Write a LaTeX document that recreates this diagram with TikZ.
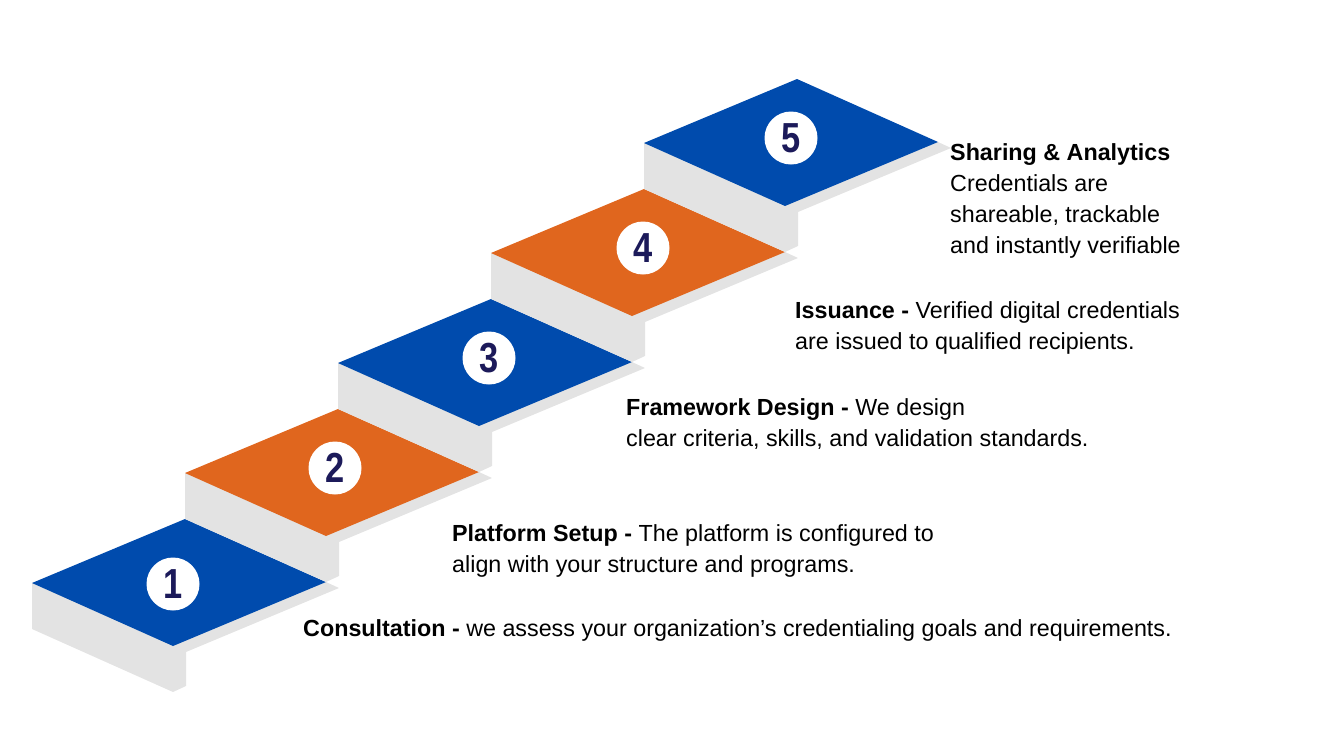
\documentclass[tikz,border=0pt]{standalone}
\usepackage{fontspec}
\setmainfont{Liberation Sans}
\usepackage{graphicx}
\definecolor{stepblue}{RGB}{0,75,173}
\definecolor{steporange}{RGB}{224,102,30}
\definecolor{stepgrey}{RGB}{227,227,227}
\definecolor{numnavy}{RGB}{28,26,90}

\begin{document}
\begin{tikzpicture}[x=1pt,y=-1pt,
  riser/.style={fill=stepgrey},
  badge/.style={circle,fill=white,minimum size=53pt,inner sep=0pt,text=numnavy,
    font=\fontsize{42}{42}\selectfont\bfseries},
  caption/.style={anchor=base west,align=left,inner sep=0pt,
    font=\fontsize{23.3}{31}\selectfont}]
  \useasboundingbox (0,0) rectangle (1340,747);

  % step 1
  \fill[riser] (32,583) -- ++(0,46) -- ++(141,63) -- ++(13,-6) -- ++(0,-34) -- ++(153,-64) -- ++(-13,-6) -- cycle;
  \fill[stepblue] (32,583) -- ++(153,-64) -- ++(141,63) -- ++(-153,64) -- cycle;
  \node[badge] at (173,584) (N1) {\scalebox{0.82}[1]{1}};
  % step 2
  \fill[riser] (185,473) -- ++(0,46) -- ++(141,63) -- ++(13,-6) -- ++(0,-34) -- ++(153,-64) -- ++(-13,-6) -- cycle;
  \fill[steporange] (185,473) -- ++(153,-64) -- ++(141,63) -- ++(-153,64) -- cycle;
  \node[badge] at (335,468) (N2) {\scalebox{0.82}[1]{2}};
  % step 3
  \fill[riser] (338,363) -- ++(0,46) -- ++(141,63) -- ++(13,-6) -- ++(0,-34) -- ++(153,-64) -- ++(-13,-6) -- cycle;
  \fill[stepblue] (338,363) -- ++(153,-64) -- ++(141,63) -- ++(-153,64) -- cycle;
  \node[badge] at (489,358) (N3) {\scalebox{0.82}[1]{3}};
  % step 4
  \fill[riser] (491,253) -- ++(0,46) -- ++(141,63) -- ++(13,-6) -- ++(0,-34) -- ++(153,-64) -- ++(-13,-6) -- cycle;
  \fill[steporange] (491,253) -- ++(153,-64) -- ++(141,63) -- ++(-153,64) -- cycle;
  \node[badge] at (643,248) (N4) {\scalebox{0.82}[1]{4}};
  % step 5
  \fill[riser] (644,143) -- ++(0,46) -- ++(141,63) -- ++(13,-6) -- ++(0,-34) -- ++(153,-64) -- ++(-13,-6) -- cycle;
  \fill[stepblue] (644,143) -- ++(153,-64) -- ++(141,63) -- ++(-153,64) -- cycle;
  \node[badge] at (791,138) (N5) {\scalebox{0.82}[1]{5}};

  % captions (base = last line)
  \node[caption] at (303,636) (Consult)
    {\textbf{Consultation -} we assess your organization’s credentialing goals and requirements.};
  \node[caption] at (452,572) (Platform)
    {\textbf{Platform Setup -} The platform is configured to\\align with your structure and programs.};
  \node[caption] at (626,446) (Framework)
    {\textbf{Framework Design -} We design\\clear criteria, skills, and validation standards.};
  \node[caption] at (795,349) (Issuance)
    {\textbf{Issuance -} Verified digital credentials\\are issued to qualified recipients.};
  \node[caption] at (950,253) (Sharing)
    {\textbf{Sharing \& Analytics}\\Credentials are\\shareable, trackable\\and instantly verifiable};
\end{tikzpicture}
\end{document}
